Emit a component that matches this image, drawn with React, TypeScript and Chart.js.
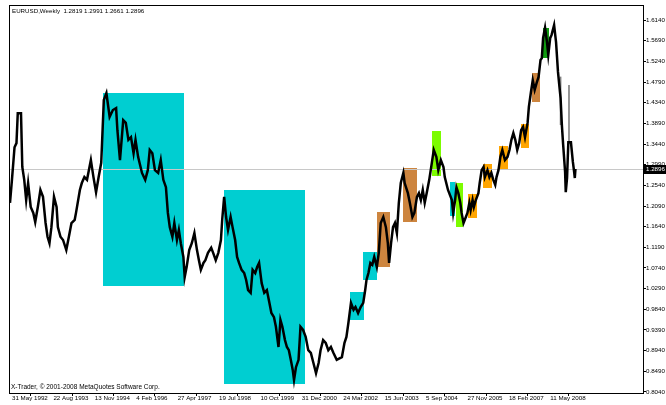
import React, { useEffect, useRef } from "react";
import { Chart, registerables } from "chart.js";
Chart.register(...registerables);

// x axis: week index counted from 31 May 1992
const dateLabels = ["31 May 1992", "22 Aug 1993", "13 Nov 1994", "4 Feb 1996", "27 Apr 1997", "19 Jul 1998", "10 Oct 1999", "31 Dec 2000", "24 Mar 2002", "15 Jun 2003", "5 Sep 2004", "27 Nov 2005", "18 Feb 2007", "11 May 2008"];
const labelWeeks = [0, 64, 128, 192, 256, 320, 384, 448, 512, 576, 640, 704, 768, 832];
const priceTicks = [0.804, 0.849, 0.894, 0.939, 0.984, 1.029, 1.074, 1.119, 1.164, 1.209, 1.254, 1.299, 1.344, 1.389, 1.434, 1.479, 1.524, 1.569, 1.614];

const weeks = [
  0, 3, 7, 10, 12, 17, 19, 22, 25, 28,
  32, 36, 39, 43, 47, 51, 55, 58, 61, 64,
  68, 72, 74, 78, 82, 87, 91, 95, 100, 102,
  108, 111, 115, 119, 125, 129, 133, 137, 141, 145,
  149, 154, 159, 164, 166, 170, 175, 179, 183, 187,
  191, 194, 198, 204, 209, 213, 216, 220, 224, 229,
  233, 237, 241, 244, 247, 251, 254, 258, 261, 264,
  268, 270, 273, 277, 281, 285, 289, 292, 295, 299,
  302, 306, 311, 314, 318, 322, 326, 328, 331, 334,
  337, 341, 344, 348, 351, 354, 358, 362, 365, 368,
  372, 375, 379, 382, 385, 389, 393, 397, 401, 404,
  408, 411, 415, 418, 421, 425, 428, 431, 434, 437,
  439, 442, 446, 449, 453, 457, 461, 465, 469, 473,
  477, 480, 484, 488, 492, 496, 500, 505, 513, 517,
  520, 523, 527, 531, 534, 538, 542, 546, 549, 551,
  554, 557, 560, 563, 567, 570, 573, 577, 581, 584,
  586, 589, 592, 595, 598, 601, 604, 608, 610, 615,
  618, 622, 625, 629, 632, 635, 638, 641, 644, 648,
  652, 655, 659, 662, 666, 670, 672, 677, 683, 685,
  688, 690, 693, 696, 698, 701, 703, 707, 710, 712,
  715, 717, 720, 724, 726, 729, 732, 734, 738, 741,
  744, 747, 750, 752, 755, 758, 761, 765, 769, 772,
  775, 778, 781, 784, 787, 790, 793, 796, 800, 802,
  805, 808, 811, 814, 817, 820, 822, 824, 827, 830,
  832, 835, 837, 841, 844, 847, 849, 851, 853, 855,
  858, 859, 861, 863, 867, 870, 872, 873, 874,
];
const prices = [
  1.216, 1.266, 1.337, 1.346, 1.411, 1.411, 1.294, 1.266, 1.222, 1.259,
  1.207, 1.194, 1.174, 1.207, 1.244, 1.229, 1.172, 1.142, 1.128, 1.163,
  1.229, 1.207, 1.163, 1.142, 1.135, 1.113, 1.142, 1.172, 1.179, 1.194,
  1.244, 1.259, 1.272, 1.266, 1.309, 1.272, 1.239, 1.272, 1.303, 1.44,
  1.455, 1.403, 1.418, 1.422, 1.374, 1.309, 1.396, 1.39, 1.353, 1.359,
  1.324, 1.353, 1.316, 1.281, 1.266, 1.287, 1.331, 1.324, 1.287, 1.281,
  1.309, 1.266, 1.25, 1.194, 1.163, 1.142, 1.172, 1.135, 1.157, 1.128,
  1.098, 1.054, 1.076, 1.113, 1.128, 1.15, 1.113, 1.091, 1.07, 1.085,
  1.091, 1.107, 1.118, 1.107, 1.091, 1.107, 1.135, 1.179, 1.229, 1.185,
  1.157, 1.185, 1.163, 1.135, 1.098, 1.085, 1.07, 1.063, 1.048, 1.026,
  1.02, 1.07, 1.063, 1.076, 1.085, 1.041, 1.02, 1.026, 0.998, 0.976,
  0.967, 0.946, 0.902, 0.961, 0.946, 0.917, 0.902, 0.895, 0.874, 0.852,
  0.83, 0.858, 0.874, 0.946, 0.939, 0.924, 0.895, 0.889, 0.867, 0.845,
  0.867, 0.895, 0.917, 0.911, 0.895, 0.902, 0.889, 0.874, 0.88, 0.911,
  0.924, 0.954, 0.998, 0.983, 0.989, 0.976, 0.989, 0.998, 1.026, 1.048,
  1.063, 1.085, 1.081, 1.098, 1.076, 1.107, 1.172, 1.185, 1.163, 1.128,
  1.085, 1.128, 1.163, 1.172, 1.15, 1.216, 1.259, 1.281, 1.259, 1.237,
  1.216, 1.185, 1.194, 1.229, 1.237, 1.222, 1.244, 1.216, 1.237, 1.266,
  1.303, 1.331, 1.316, 1.287, 1.309, 1.294, 1.272, 1.244, 1.222, 1.194,
  1.222, 1.25, 1.237, 1.216, 1.194, 1.172, 1.179, 1.194, 1.216, 1.2,
  1.222, 1.207, 1.222, 1.237, 1.259, 1.287, 1.294, 1.272, 1.287, 1.272,
  1.281, 1.266, 1.255, 1.272, 1.287, 1.316, 1.331, 1.309, 1.316, 1.331,
  1.353, 1.368, 1.353, 1.331, 1.346, 1.374, 1.381, 1.359, 1.39, 1.425,
  1.455, 1.483, 1.462, 1.477, 1.49, 1.527, 1.531, 1.575, 1.597, 1.566,
  1.538, 1.575, 1.581, 1.603, 1.566, 1.501, 1.472, 1.444, 1.385, 1.342,
  1.283, 1.239, 1.27, 1.348, 1.348, 1.305, 1.283, 1.27, 1.2896,
];

// thin single-week spikes
const spikeWeeks = [851, 864];
const spikeLow = [1.386, 1.348];
const spikeHigh = [1.49, 1.472];

// coloured rectangles (week start, week end, price top, price bottom)
const boxStart = [144, 331, 525, 546, 567, 607, 652, 680, 689, 708, 731, 756, 790, 807, 824];
const boxEnd = [269, 456, 547, 567, 587, 629, 666, 688, 700, 722, 745, 770, 802, 819, 833];
const boxTop = [1.455, 1.244, 1.022, 1.109, 1.196, 1.292, 1.372, 1.261, 1.259, 1.235, 1.3, 1.34, 1.387, 1.499, 1.597];
const boxBottom = [1.035, 0.821, 0.961, 1.048, 1.076, 1.174, 1.274, 1.187, 1.163, 1.183, 1.248, 1.287, 1.335, 1.435, 1.531];
const boxColor = ["#00ced1", "#00ced1", "#00ced1", "#00ced1", "#cd853f", "#cd853f", "#7cfc00", "#00ced1", "#7cfc00", "#ffa500", "#ffa500", "#ffa500", "#ffa500", "#cd853f", "#109c10"];

const lastPrice = 1.2896;
const headerText = "EURUSD,Weekly  1.2819 1.2991 1.2661 1.2896";
const footerText = "X-Trader, \u00a9 2001-2008 MetaQuotes Software Corp.";

const FONT = "Liberation Sans, Arial, sans-serif";

const overlay = {
  id: "overlay",
  beforeDatasetsDraw(chart: any) {
    const { ctx, chartArea, scales } = chart;
    const x = scales.x, y = scales.y;
    ctx.save();
    ctx.beginPath();
    ctx.rect(chartArea.left, chartArea.top, chartArea.right - chartArea.left, chartArea.bottom - chartArea.top);
    ctx.clip();
    for (let i = 0; i < boxStart.length; i++) {
      const x0 = Math.round(x.getPixelForValue(boxStart[i]));
      const x1 = Math.round(x.getPixelForValue(boxEnd[i]));
      const y0 = Math.round(y.getPixelForValue(boxTop[i]));
      const y1 = Math.round(y.getPixelForValue(boxBottom[i]));
      ctx.fillStyle = boxColor[i];
      ctx.fillRect(x0, y0, x1 - x0, y1 - y0);
    }
    const yp = Math.round(y.getPixelForValue(lastPrice)) + 0.5;
    ctx.strokeStyle = "#c8c8c8";
    ctx.lineWidth = 1;
    ctx.beginPath();
    ctx.moveTo(chartArea.left, yp);
    ctx.lineTo(chartArea.right, yp);
    ctx.stroke();
    ctx.restore();
  },
  afterDraw(chart: any) {
    const { ctx, chartArea, scales } = chart;
    const y = scales.y;
    ctx.save();
    ctx.strokeStyle = "#000";
    ctx.lineWidth = 1;
    ctx.strokeRect(chartArea.left + 0.5, chartArea.top + 0.5, chartArea.right - chartArea.left, chartArea.bottom - chartArea.top);
    ctx.fillStyle = "#000";
    ctx.textAlign = "left";
    ctx.textBaseline = "middle";
    ctx.font = `6.2px ${FONT}`;
    ctx.fillText(headerText, chartArea.left + 3, chartArea.top + 6);
    ctx.font = `6.5px ${FONT}`;
    ctx.fillText(footerText, chartArea.left + 2, chartArea.bottom - 6);
    const yp = Math.round(y.getPixelForValue(lastPrice));
    ctx.fillStyle = "#000";
    ctx.fillRect(chartArea.right, yp - 4, 23, 9);
    ctx.fillStyle = "#fff";
    ctx.font = `6.2px ${FONT}`;
    ctx.fillText(lastPrice.toFixed(4), chartArea.right + 3, yp + 0.5);
    ctx.restore();
  },
};

export default function App() {
  const ref = useRef<HTMLCanvasElement | null>(null);
  useEffect(() => {
    if (!ref.current) return;
    const chart = new Chart(ref.current, {
      type: "line",
      data: {
        datasets: [
          {
            type: "line",
            data: weeks.map((w, i) => ({ x: w, y: prices[i] })),
            borderColor: "#000",
            borderWidth: 2.5,
            pointRadius: 0,
            tension: 0,
            order: 1,
          } as any,
          {
            type: "bar",
            data: spikeWeeks.map((w, i) => ({ x: w, y: [spikeLow[i], spikeHigh[i]] })),
            backgroundColor: "#808080",
            barThickness: 1,
            order: 2,
          } as any,
        ],
      },
      options: {
        responsive: false,
        animation: false,
        layout: { padding: { left: 9, top: 5, right: 0, bottom: 0 } },
        plugins: { legend: { display: false }, tooltip: { enabled: false }, title: { display: false } },
        scales: {
          x: {
            type: "linear",
            min: -1.55,
            max: 978.4,
            offset: false,
            afterBuildTicks: (s: any) => { s.ticks = labelWeeks.map((v) => ({ value: v })); },
            afterFit: (s: any) => { s.height = 12; },
            grid: { drawOnChartArea: false, drawTicks: true, tickLength: 3, color: "#000" },
            border: { display: true, color: "#000" },
            ticks: {
              autoSkip: false,
              maxRotation: 0,
              align: "start",
              labelOffset: 2,
              padding: -1,
              color: "#000",
              font: { family: FONT, size: 6.2 },
              callback: (_v: any, i: number) => dateLabels[i],
            },
          },
          y: {
            type: "linear",
            position: "right",
            min: 0.8018,
            max: 1.6467,
            beginAtZero: false,
            afterBuildTicks: (s: any) => { s.ticks = priceTicks.map((v) => ({ value: v })); },
            afterFit: (s: any) => { s.width = 23; },
            grid: { drawOnChartArea: false, drawTicks: true, tickLength: 3, color: "#000" },
            border: { display: true, color: "#000" },
            ticks: {
              autoSkip: false,
              padding: 0,
              color: "#000",
              font: { family: FONT, size: 6.2 },
              callback: (v: any) => Number(v).toFixed(4),
            },
          },
        },
      },
      plugins: [overlay],
    });
    return () => chart.destroy();
  }, []);
  return (
    <div style={{ position: "absolute", left: 0, top: 0, width: 666, height: 405, background: "#fff" }}>
      <canvas ref={ref} width={666} height={405} />
    </div>
  );
}
